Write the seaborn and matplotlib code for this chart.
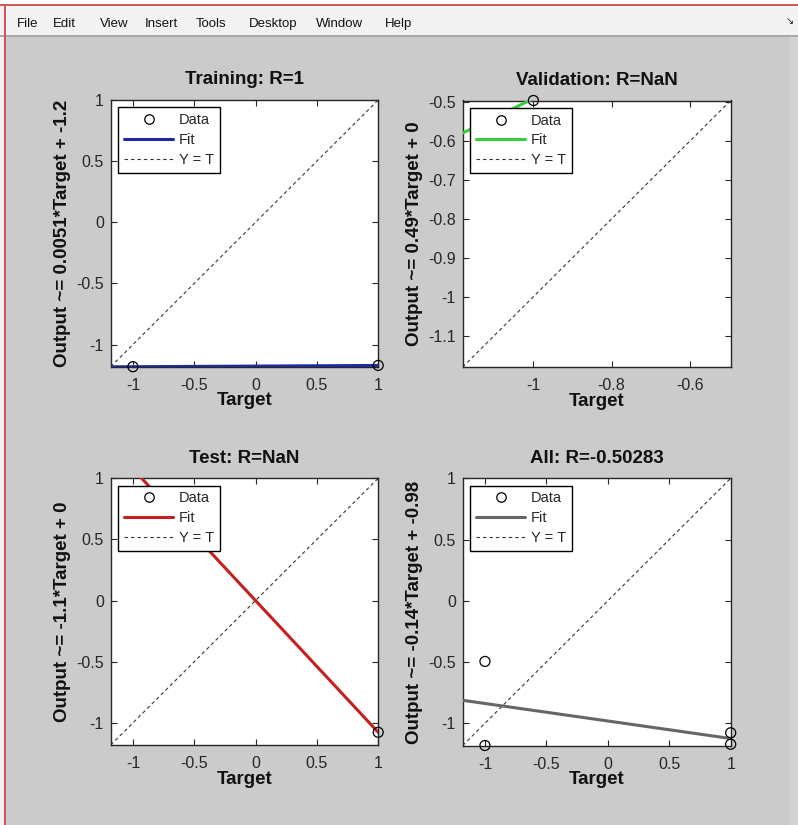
import numpy as np
import pandas as pd
import matplotlib
matplotlib.use("Agg")
import matplotlib.pyplot as plt
import seaborn as sns
from matplotlib.lines import Line2D
from matplotlib.patches import Rectangle

# ---------------- data ----------------
panel_names = ["Training", "Validation", "Test", "All"]
r_labels = ["1", "NaN", "NaN", "-0.50283"]

train_target = [-1, 1]
train_output = [-1.181, -1.1708]
val_target = [-1]
val_output = [-0.4949]
test_target = [1]
test_output = [-1.077]
all_target = [-1, 1, -1, 1]
all_output = [-1.181, -1.1708, -0.4949, -1.077]

fit_slope = [0.0051, 0.49, -1.077, -0.143]
fit_intercept = [-1.176, 0.0, 0.0, -0.981]
slope_labels = ["0.0051", "0.49", "-1.1", "-0.14"]
intercept_labels = ["-1.2", "0", "0", "-0.98"]
fit_colors = ["#1f2a9e", "#3ccb3c", "#c42020", "#666666"]

axis_lo = [-1.181, -1.181, -1.181, -1.181]
axis_hi = [1.0, -0.4949, 1.0, 1.0]

wide_ticks = [-1, -0.5, 0, 0.5, 1]
wide_tick_labels = ["-1", "-0.5", "0", "0.5", "1"]
val_xticks = [-1, -0.8, -0.6]
val_xtick_labels = ["-1", "-0.8", "-0.6"]
val_yticks = [-1.1, -1, -0.9, -0.8, -0.7, -0.6, -0.5]
val_ytick_labels = ["-1.1", "-1", "-0.9", "-0.8", "-0.7", "-0.6", "-0.5"]

menu_items = ["File", "Edit", "View", "Insert", "Tools", "Desktop", "Window", "Help"]
menu_x = [17, 53, 100, 145, 196, 249, 316, 385]

targets = [train_target, val_target, test_target, all_target]
outputs = [train_output, val_output, test_output, all_output]
xticks = [wide_ticks, val_xticks, wide_ticks, wide_ticks]
xtick_labels = [wide_tick_labels, val_xtick_labels, wide_tick_labels, wide_tick_labels]
yticks = [wide_ticks, val_yticks, wide_ticks, wide_ticks]
ytick_labels = [wide_tick_labels, val_ytick_labels, wide_tick_labels, wide_tick_labels]

# ---------------- figure ----------------
sns.set_theme(style="ticks")
plt.rcParams["font.family"] = ["Liberation Sans", "DejaVu Sans"]

W, H = 798, 825
fig = plt.figure(figsize=(W / 100, H / 100), dpi=100)
fig.patch.set_facecolor("#cbcbcb")

def frect(x0, y0, x1, y1, color):
    fig.add_artist(Rectangle((x0 / W, 1 - y1 / H), (x1 - x0) / W, (y1 - y0) / H,
                             transform=fig.transFigure, facecolor=color,
                             edgecolor="none", zorder=0))

# window chrome
frect(0, 0, W, 4, "#ffffff")
frect(0, 37, 4, H, "#f2f2f2")
frect(790, 37, W, H, "#d3d3d3")
frect(0, 6, W, 35.5, "#f3f3f3")
frect(0, 35.5, W, 37, "#a9a9a9")
frect(0, 4, W, 6, "#d05858")
frect(4, 5, 6, H, "#d05858")
for name, mx in zip(menu_items, menu_x):
    fig.text(mx / W, 1 - 27 / H, name, ha="left", va="baseline", fontsize=9.5,
             color="#111111", family=["Liberation Sans", "DejaVu Sans"])
fig.text(786 / W, 1 - 21 / H, "\u2198", ha="left", va="center", fontsize=7,
         color="#222222", family=["DejaVu Sans"])

# axes positions (pixels: left, top, right, bottom)
boxes = [(110.7, 100.0, 378.2, 366.7),
         (462.7, 100.5, 730.7, 367.0),
         (110.7, 478.3, 378.2, 745.0),
         (462.7, 478.3, 730.7, 745.5)]

for i, (l, t, r, b) in enumerate(boxes):
    ax = fig.add_axes([l / W, 1 - b / H, (r - l) / W, (b - t) / H])
    ax.set_facecolor("white")
    lo, hi = axis_lo[i], axis_hi[i]
    lims = np.array([lo, hi])

    # Y = T reference
    ref = pd.DataFrame({"x": lims, "y": lims})
    sns.lineplot(data=ref, x="x", y="y", ax=ax, color="#383838",
                 linestyle=(0, (3.2, 2.6)), linewidth=0.8, zorder=2)
    # fit line
    fit = pd.DataFrame({"x": lims, "y": fit_slope[i] * lims + fit_intercept[i]})
    sns.lineplot(data=fit, x="x", y="y", ax=ax, color=fit_colors[i],
                 linewidth=2.2, zorder=3)
    # data points
    pts = pd.DataFrame({"x": targets[i], "y": outputs[i]})
    sns.scatterplot(data=pts, x="x", y="y", ax=ax, marker="o", s=52,
                    facecolor="none", edgecolor="black", linewidth=0.9,
                    zorder=5, clip_on=False)

    ax.set_xlim(lo, hi)
    ax.set_ylim(lo, hi)
    ax.set_xticks(xticks[i])
    ax.set_xticklabels(xtick_labels[i])
    ax.set_yticks(yticks[i])
    ax.set_yticklabels(ytick_labels[i])
    ax.tick_params(direction="in", length=4, width=0.8, top=True, right=True,
                   labelsize=11.5, colors="#262626", pad=5)
    ax.tick_params(axis="x", pad=8)
    for s in ax.spines.values():
        s.set_color("#262626")
        s.set_linewidth(1.0)
        s.set_visible(True)

    ax.set_xlabel("Target", fontsize=13.5, fontweight="bold", color="#111111")
    ax.set_ylabel(f"Output ~= {slope_labels[i]}*Target + {intercept_labels[i]}",
                  fontsize=13.5, fontweight="bold", color="#111111")
    hpx = b - t
    wpx = r - l
    ax.xaxis.set_label_coords(0.5, -34 / hpx)
    ax.xaxis.label.set_va("center")
    ax.yaxis.set_label_coords(-48 / wpx, 0.5)
    ax.yaxis.label.set_va("center")
    ax.set_title(f"{panel_names[i]}: R={r_labels[i]}", fontsize=13.5,
                 fontweight="bold", color="#111111", y=1 + 20 / hpx, pad=0,
                 va="center")

    handles = [Line2D([], [], marker="o", linestyle="none", markerfacecolor="none",
                      markeredgecolor="black", markersize=6.8, markeredgewidth=0.9),
               Line2D([], [], color=fit_colors[i], linewidth=2.2),
               Line2D([], [], color="#383838", linestyle=(0, (3.2, 2.6)), linewidth=0.8)]
    leg = ax.legend(handles, ["Data", "Fit", "Y = T"], loc="upper left",
                    fontsize=10.5, frameon=True, fancybox=False, handlelength=3.4,
                    borderaxespad=0.5, labelspacing=0.4, handletextpad=0.4,
                    borderpad=0.4)
    leg.get_frame().set_edgecolor("black")
    leg.get_frame().set_linewidth(1.0)
    leg.get_frame().set_facecolor("white")
    leg.get_frame().set_alpha(1)
    leg.set_zorder(10)

fig.savefig("out.png", dpi=100, facecolor=fig.get_facecolor())
